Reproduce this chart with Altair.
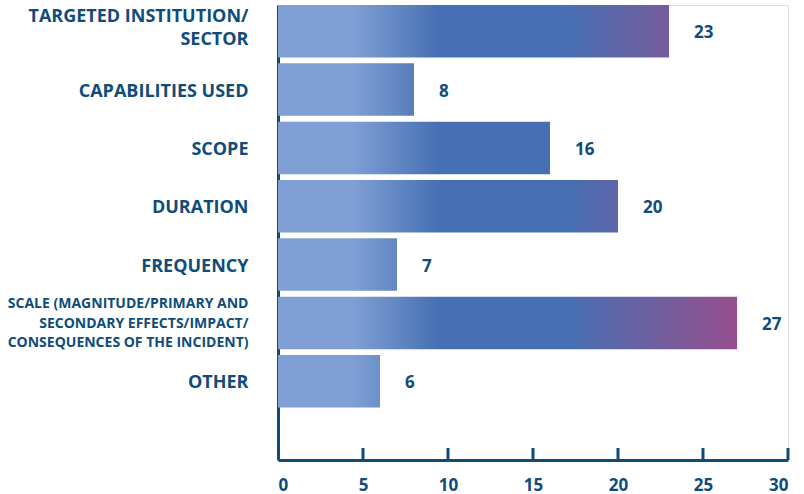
import altair as alt
import pandas as pd

# Categories (multi-line labels use "|" as the line break) and their counts
categories = [
    "TARGETED INSTITUTION/|SECTOR",
    "CAPABILITIES USED",
    "SCOPE",
    "DURATION",
    "FREQUENCY",
    "SCALE (MAGNITUDE/PRIMARY AND|SECONDARY EFFECTS/IMPACT/|CONSEQUENCES OF THE INCIDENT)",
    "OTHER",
]
counts = [23, 8, 16, 20, 7, 27, 6]
x_ticks = [0, 5, 10, 15, 20, 25, 30]

INK = "#0f4c7a"
FONT = "Open Sans"
W, H = 510, 455

df = pd.DataFrame({"category": categories, "count": counts})
ticks_df = pd.DataFrame({"t": x_ticks[1:]})

x_scale = alt.Scale(domain=[0, 30], nice=False)
y_scale = alt.Scale(domain=categories, paddingInner=0.1, paddingOuter=0.45, align=0)

# The colour ramp runs along the value axis, so every bar is filled with the
# same ramp stretched to the largest count.
span = max(counts)
ramp = [
    (0.0, "#80a0d5"),
    (0.16, "#80a0d5"),
    (0.35, "#4670b3"),
    (0.63, "#4670b3"),
    (1.0, "#964e8d"),
]

# Multi-line labels: smaller type for the long one, and shift every block up
# so it sits centred on its bar.
is_long = "indexof(datum.value, 'SCALE') == 0"
n_lines = "length(split(datum.value, '|'))"

base = alt.Chart(df)

bars = []
for cat, val in zip(categories, counts):
    grad = alt.Gradient(
        gradient="linear",
        x1=0, y1=0, x2=span / val, y2=0,
        stops=[alt.GradientStop(offset=o, color=c) for o, c in ramp],
    )
    bars.append(
        base.transform_filter(alt.datum.category == cat)
        .mark_bar(color=grad)
        .encode(
            x=alt.X("count:Q", scale=x_scale,
                    axis=alt.Axis(values=x_ticks, title=None, grid=False,
                                  ticks=False, domainColor=INK, domainWidth=3,
                                  labelColor=INK, labelFont=FONT,
                                  labelFontWeight="bold", labelFontSize=17,
                                  labelPadding=17)),
            y=alt.Y("category:N", scale=y_scale, sort=None,
                    axis=alt.Axis(title=None, ticks=False, grid=False,
                                  domainColor=INK, domainWidth=3,
                                  labelColor=INK, labelFont=FONT,
                                  labelFontWeight="bold",
                                  labelFontSize=alt.expr(f"{is_long} ? 14 : 18"),
                                  labelLineHeight=alt.expr(f"{is_long} ? 19.7 : 22.5"),
                                  labelOffset=alt.expr(
                                      f"{n_lines} == 3 ? -19 : ({n_lines} == 2 ? -14 : 2)"),
                                  labelExpr="split(datum.label, '|')",
                                  labelLimit=400, labelPadding=30)),
        )
    )

values = base.mark_text(
    align="left", baseline="middle", dx=25, dy=2,
    font=FONT, fontWeight="bold", fontSize=17, color=INK,
).encode(
    x=alt.X("count:Q", scale=x_scale),
    y=alt.Y("category:N", scale=y_scale, sort=None),
    text="count:Q",
)

# Inward-pointing ticks on the value axis
tick_marks = alt.Chart(ticks_df).mark_rule(color=INK, strokeWidth=3).encode(
    x=alt.X("t:Q", scale=x_scale),
    y=alt.value(H - 12),
    y2=alt.value(H),
)

chart = alt.layer(*bars, values, tick_marks).properties(
    width=W,
    height=H,
    autosize=alt.AutoSizeParams(type="none"),
    padding={"left": 278, "top": 5, "right": 16, "bottom": 34},
).configure_view(stroke=None).configure(background="white")

chart.save("out.html", embed_options={"renderer": "svg", "actions": False})
